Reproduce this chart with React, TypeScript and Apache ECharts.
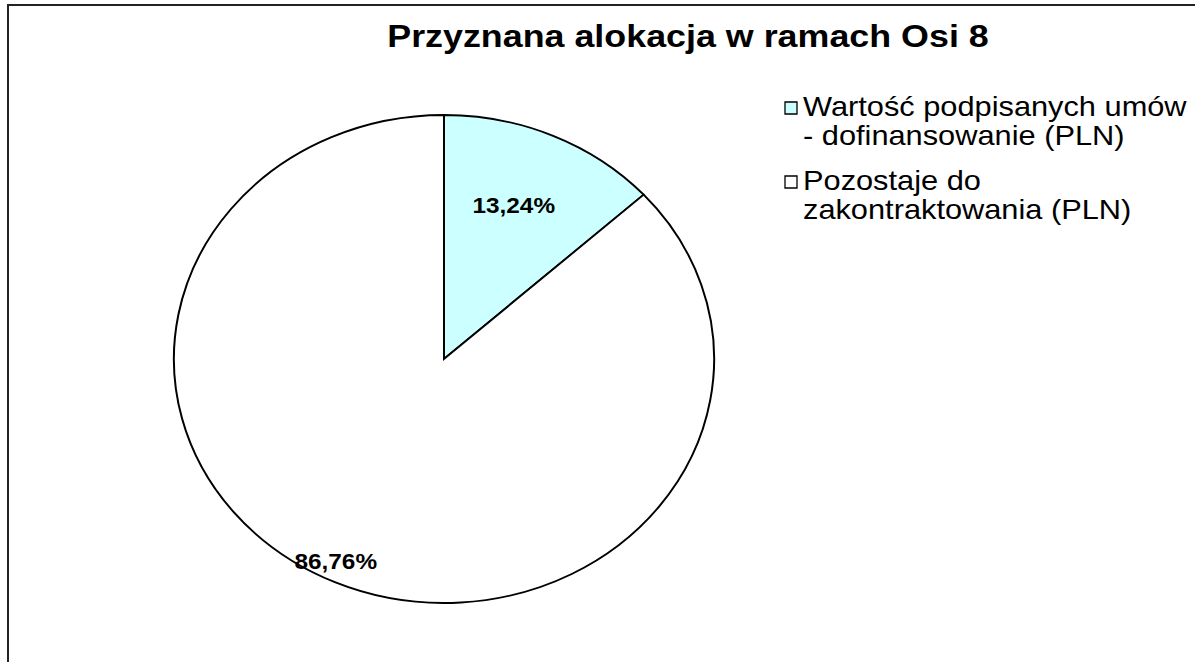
import React, { useEffect, useRef } from "react";
import * as echarts from "echarts";

const TITLE = "Przyznana alokacja w ramach Osi 8";
const CATEGORIES = [
  "Wartość podpisanych umów - dofinansowanie (PLN)",
  "Pozostaje do zakontraktowania (PLN)",
];
const LEGEND_LINES = [
  ["Wartość podpisanych umów", "- dofinansowanie (PLN)"],
  ["Pozostaje do", "zakontraktowania (PLN)"],
];
const SHARES = [13.24, 86.76];
const COLORS = ["#CCFFFF", "#FFFFFF"];

const FONT = '"Liberation Sans", Arial, sans-serif';
const CX = 444;
const CY = 359;
const R = 244;
const SX = 270 / 244;
const LABEL_FRAC = [0.68, 0.92];
const LABEL_SHIFT_DEG = [-1.5, 2];

export default function App() {
  const ref = useRef<HTMLDivElement>(null);
  useEffect(() => {
    if (!ref.current) return;
    const chart = echarts.init(ref.current, undefined, { renderer: "svg" });
    const total = SHARES.reduce((a, b) => a + b, 0);
    const option: any = {
      animation: false,
      backgroundColor: "#ffffff",
      series: [
        {
          type: "custom",
          coordinateSystem: "none",
          data: SHARES.map((v, i) => ({ value: v, name: CATEGORIES[i] })),
          renderItem: (params: any, api: any) => {
            const i = params.dataIndex;
            const v = api.value(0);
            let before = 0;
            for (let k = 0; k < i; k++) before += SHARES[k];
            const start = -Math.PI / 2 + (before / total) * Math.PI * 2;
            const end = start + (v / total) * Math.PI * 2;
            const mid = (start + end) / 2 + (LABEL_SHIFT_DEG[i] * Math.PI) / 180;
            const f = LABEL_FRAC[i];
            const pct = ((v / total) * 100).toFixed(2).replace(".", ",") + "%";
            return {
              type: "group",
              x: CX,
              y: CY,
              scaleX: SX,
              children: [
                {
                  type: "sector",
                  shape: { cx: 0, cy: 0, r: R, startAngle: start, endAngle: end, clockwise: true },
                  style: { fill: COLORS[i], stroke: "#000000", lineWidth: 1.8 },
                },
                {
                  type: "text",
                  x: Math.cos(mid) * R * f,
                  y: Math.sin(mid) * R * f,
                  style: {
                    text: pct,
                    font: `bold 22px ${FONT}`,
                    fill: "#000000",
                    align: "center",
                    verticalAlign: "middle",
                  },
                },
              ],
            };
          },
        },
      ],
      graphic: [
        {
          type: "rect",
          shape: { x: 8, y: 5, width: 1400, height: 800 },
          style: { fill: "none", stroke: "#222222", lineWidth: 2 },
          silent: true,
        },
        {
          type: "text",
          x: 688,
          y: 36,
          scaleX: 1.12,
          style: {
            text: TITLE,
            font: `bold 32px ${FONT}`,
            fill: "#000000",
            align: "center",
            verticalAlign: "middle",
          },
        },
        ...LEGEND_LINES.flatMap((lines, i) => {
          const y0 = 107 + i * 74;
          return [
            {
              type: "rect",
              shape: { x: 785, y: y0 - 5, width: 12, height: 12 },
              style: { fill: COLORS[i], stroke: "#000000", lineWidth: 1.3 },
            },
            {
              type: "text",
              x: 803,
              y: y0 - 14.5,
              scaleX: 1.14,
              style: {
                text: lines.join("\n"),
                font: `27px ${FONT}`,
                lineHeight: 29,
                fill: "#000000",
                align: "left",
                verticalAlign: "top",
              },
            },
          ];
        }),
      ],
    };
    chart.setOption(option);
    return () => chart.dispose();
  }, []);
  return (
    <div
      ref={ref}
      style={{ position: "fixed", left: 0, top: 0, width: 1195, height: 662 }}
    />
  );
}
